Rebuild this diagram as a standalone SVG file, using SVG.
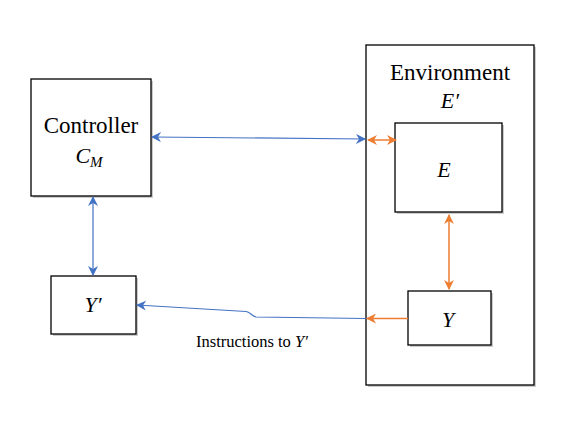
<svg xmlns="http://www.w3.org/2000/svg" width="568" height="437" viewBox="0 0 568 437" font-family="'Liberation Serif', serif">
<rect width="568" height="437" fill="#fff"/>
<defs>
<marker id="ab" viewBox="0 0 10 10" refX="9" refY="5" markerWidth="10" markerHeight="10" markerUnits="userSpaceOnUse" orient="auto-start-reverse">
<path d="M0,0 L10,5 L0,10 L3,5 Z" fill="#4472C4"/>
</marker>
<marker id="ao" viewBox="0 0 10 10" refX="9" refY="5" markerWidth="10" markerHeight="10" markerUnits="userSpaceOnUse" orient="auto-start-reverse">
<path d="M0,0 L10,5 L0,10 L3,5 Z" fill="#ED7D31"/>
</marker>
</defs>
<g id="environment">
<rect x="368" y="47" width="168" height="340" fill="#999" opacity="0.5"/>
<rect x="366" y="45" width="168" height="340" fill="#fff" stroke="#000" stroke-width="1.3"/>
<text x="450" y="80" font-size="23" text-anchor="middle" font-family="Liberation Serif">Environment</text>
<text x="450" y="108" font-size="22" text-anchor="middle" font-family="Liberation Serif" font-style="italic">E′</text>
</g>
<g id="controller">
<rect x="33" y="81" width="120" height="117" fill="#999" opacity="0.5"/>
<rect x="31" y="79" width="120" height="117" fill="#fff" stroke="#000" stroke-width="1.3"/>
<text x="91" y="133" font-size="23" text-anchor="middle" font-family="Liberation Serif">Controller</text>
<text x="89" y="163" font-size="22" text-anchor="middle" font-family="Liberation Serif" font-style="italic">C<tspan font-size="15" dy="4">M</tspan></text>
</g>
<g id="yprime">
<rect x="53" y="278" width="85" height="58" fill="#999" opacity="0.5"/>
<rect x="51" y="276" width="85" height="58" fill="#fff" stroke="#000" stroke-width="1.3"/>
<text x="93" y="312" font-size="22" text-anchor="middle" font-family="Liberation Serif" font-style="italic">Y′</text>
</g>
<g id="e">
<rect x="397" y="125" width="107" height="89" fill="#999" opacity="0.5"/>
<rect x="395" y="123" width="107" height="89" fill="#fff" stroke="#000" stroke-width="1.3"/>
<text x="444" y="177" font-size="22" text-anchor="middle" font-family="Liberation Serif" font-style="italic">E</text>
</g>
<g id="y">
<rect x="410" y="293" width="83" height="54" fill="#999" opacity="0.5"/>
<rect x="408" y="291" width="83" height="54" fill="#fff" stroke="#000" stroke-width="1.3"/>
<text x="448" y="327" font-size="22" text-anchor="middle" font-family="Liberation Serif" font-style="italic">Y</text>
</g>
<g id="connectors" fill="none">
<line x1="152" y1="137" x2="365" y2="139" stroke="#4472C4" stroke-width="1.2" marker-start="url(#ab)" marker-end="url(#ab)"/>
<line x1="368" y1="140" x2="396" y2="140" stroke="#ED7D31" stroke-width="1.5" marker-start="url(#ao)" marker-end="url(#ao)"/>
<line x1="93" y1="197" x2="93" y2="275" stroke="#4472C4" stroke-width="1.2" marker-start="url(#ab)" marker-end="url(#ab)"/>
<line x1="449" y1="215" x2="449" y2="289" stroke="#ED7D31" stroke-width="1.5" marker-start="url(#ao)" marker-end="url(#ao)"/>
<line x1="408" y1="318.5" x2="367" y2="318.5" stroke="#ED7D31" stroke-width="1.5" marker-end="url(#ao)"/>
<path d="M366,318.5 L256,317 C252,316 250,312 246,311.5 L137,305" stroke="#4472C4" stroke-width="1.2" marker-end="url(#ab)"/>
<text x="196" y="347" font-size="16.5" font-family="Liberation Serif" fill="#000">Instructions to <tspan font-style="italic">Y′</tspan></text>
</g>
</svg>
